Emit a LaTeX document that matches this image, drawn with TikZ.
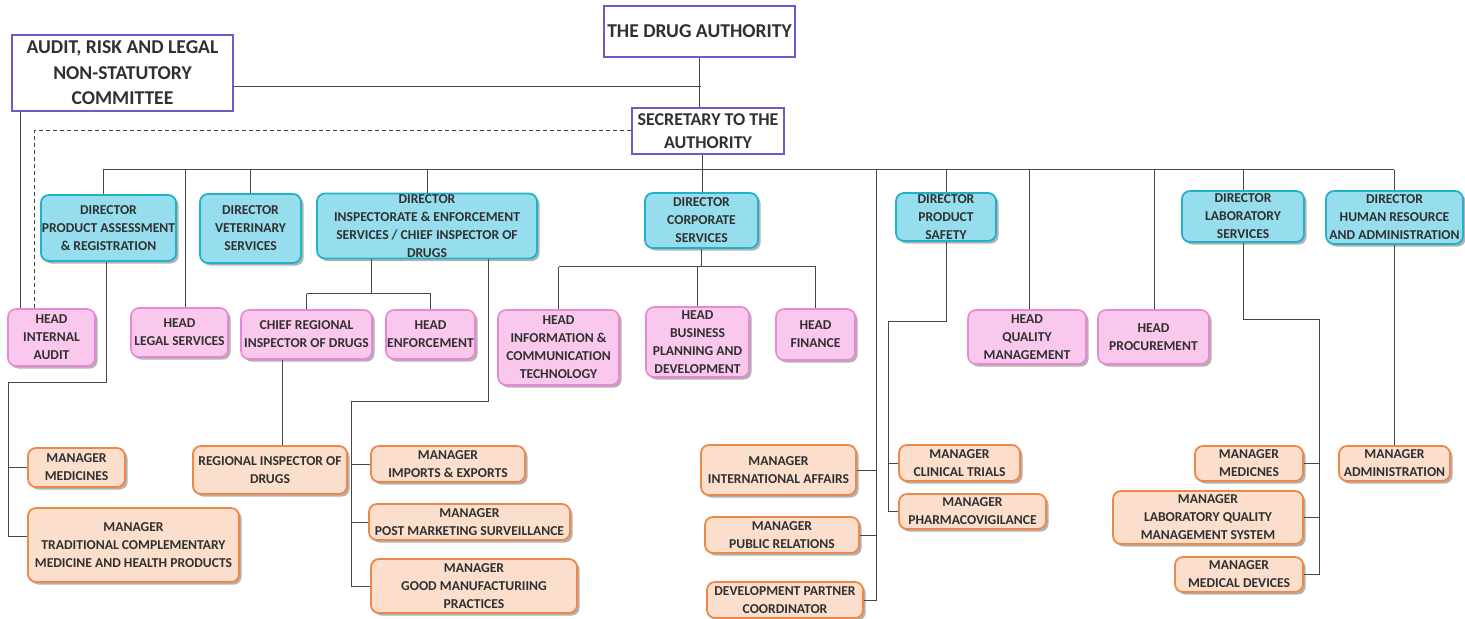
\documentclass[tikz,border=0pt]{standalone}
\usepackage{fontspec}
\setmainfont{Carlito}
\usetikzlibrary{shadows}

\definecolor{authborder}{RGB}{106,92,205}
\definecolor{dirfill}{RGB}{150,222,238}
\definecolor{dirborder}{RGB}{34,178,200}
\definecolor{headfill}{RGB}{250,200,236}
\definecolor{headborder}{RGB}{232,136,212}
\definecolor{mgrfill}{RGB}{252,222,204}
\definecolor{mgrborder}{RGB}{238,136,72}
\definecolor{txtgray}{RGB}{48,48,48}
\definecolor{linegray}{RGB}{70,70,70}

\begin{document}
\begin{tikzpicture}[x=0.5pt, y=-0.5pt, text=txtgray]

    % Define styles
    \tikzstyle{board} = [
        rectangle, draw=authborder, line width=1pt, fill=white,
        align=center, inner sep=1pt,
        font=\fontsize{9.8}{12.75}\selectfont\bfseries
    ]
    \tikzstyle{director} = [
        rectangle, rounded corners=4pt, draw=dirborder, line width=0.9pt,
        fill=dirfill, align=center, inner sep=0.5pt,
        font=\fontsize{6.8}{9}\selectfont\bfseries,
        drop shadow={shadow xshift=1.3pt, shadow yshift=-1.3pt, fill=black, opacity=0.3}
    ]
    \tikzstyle{head} = [
        director, draw=headborder, line width=0.8pt, fill=headfill
    ]
    \tikzstyle{manager} = [
        director, draw=mgrborder, line width=0.9pt, fill=mgrfill
    ]
    \tikzstyle{link} = [draw=linegray, line width=0.5pt]

    \useasboundingbox (0,0) rectangle (1465,619);

    % Nodes: top of the structure
    \node[board, minimum width=95.5pt, minimum height=25.5pt] (da) at (699.5,31.5) {THE DRUG AUTHORITY};
    \node[board, minimum width=110.5pt, minimum height=38pt] (arc) at (122.5,73) {AUDIT, RISK AND LEGAL\\NON-STATUTORY\\COMMITTEE};
    \node[board, minimum width=76pt, minimum height=23pt, font=\fontsize{9}{11.8}\selectfont\bfseries] (sec) at (708,131) {SECRETARY TO THE\\AUTHORITY};

    % Nodes: directors
    \node[director, minimum width=66.5pt, minimum height=33pt] (dpar) at (108.5,228) {DIRECTOR\\PRODUCT ASSESSMENT\\\& REGISTRATION};
    \node[director, minimum width=50.5pt, minimum height=34.5pt] (dvet) at (250.5,228.5) {DIRECTOR\\VETERINARY\\SERVICES};
    \node[director, minimum width=110pt, minimum height=32pt] (dinsp) at (427,226) {DIRECTOR\\INSPECTORATE \& ENFORCEMENT\\SERVICES / CHIEF INSPECTOR OF\\DRUGS};
    \node[director, minimum width=56.5pt, minimum height=27.5pt] (dcorp) at (701.5,220.5) {DIRECTOR\\CORPORATE\\SERVICES};
    \node[director, minimum width=50pt, minimum height=24pt] (dps) at (946,217) {DIRECTOR\\PRODUCT\\SAFETY};
    \node[director, minimum width=61pt, minimum height=25.5pt] (dlab) at (1243,216.5) {DIRECTOR\\LABORATORY\\SERVICES};
    \node[director, minimum width=68.5pt, minimum height=26.5pt] (dhr) at (1394.5,217.5) {DIRECTOR\\HUMAN RESOURCE\\AND ADMINISTRATION};

    % Nodes: heads
    \node[head, minimum width=43.5pt, minimum height=28.5pt] (hia) at (51.5,337.5) {HEAD\\INTERNAL\\AUDIT};
    \node[head, minimum width=48.5pt, minimum height=24.5pt] (hls) at (179.5,332.5) {HEAD\\LEGAL SERVICES};
    \node[head, minimum width=65.5pt, minimum height=24.5pt] (cri) at (306.5,334.5) {CHIEF REGIONAL\\INSPECTOR OF DRUGS};
    \node[head, minimum width=44.5pt, minimum height=24.5pt] (hen) at (430.5,334.5) {HEAD\\ENFORCEMENT};
    \node[head, minimum width=60.5pt, minimum height=37.5pt] (hict) at (558.5,347.5) {HEAD\\INFORMATION \&\\COMMUNICATION\\TECHNOLOGY};
    \node[head, minimum width=51.5pt, minimum height=35pt] (hbpd) at (697.5,342) {HEAD\\BUSINESS\\PLANNING AND\\DEVELOPMENT};
    \node[head, minimum width=39.5pt, minimum height=25.5pt] (hfin) at (815.5,334.5) {HEAD\\FINANCE};
    \node[head, minimum width=59pt, minimum height=27pt] (hqm) at (1027,337) {HEAD\\QUALITY\\MANAGEMENT};
    \node[head, minimum width=55.5pt, minimum height=27pt] (hproc) at (1153.5,337) {HEAD\\PROCUREMENT};

    % Nodes: managers
    \node[manager, minimum width=48.5pt, minimum height=19.5pt] (mmed) at (76.5,467.5) {MANAGER\\MEDICINES};
    \node[manager, minimum width=105.5pt, minimum height=37pt] (mtcm) at (133.5,545) {MANAGER\\TRADITIONAL COMPLEMENTARY\\MEDICINE AND HEALTH PRODUCTS};
    \node[manager, minimum width=77pt, minimum height=24pt] (rid) at (270,470) {REGIONAL INSPECTOR OF\\DRUGS};
    \node[manager, minimum width=77pt, minimum height=18pt] (mimp) at (448,464) {MANAGER\\IMPORTS \& EXPORTS};
    \node[manager, minimum width=100.5pt, minimum height=18pt] (mpms) at (469.5,522) {MANAGER\\POST MARKETING SURVEILLANCE};
    \node[manager, minimum width=103pt, minimum height=27pt] (mgmp) at (474,586) {MANAGER\\GOOD MANUFACTURIING\\PRACTICES};
    \node[manager, minimum width=77.5pt, minimum height=25pt] (mint) at (778.5,470) {MANAGER\\INTERNATIONAL AFFAIRS};
    \node[manager, minimum width=77pt, minimum height=18pt] (mpr) at (782,535) {MANAGER\\PUBLIC RELATIONS};
    \node[manager, minimum width=78pt, minimum height=18pt] (mdpc) at (785,600) {DEVELOPMENT PARTNER\\COORDINATOR};
    \node[manager, minimum width=60.5pt, minimum height=18pt] (mct) at (959.5,463) {MANAGER\\CLINICAL TRIALS};
    \node[manager, minimum width=73.5pt, minimum height=17.5pt] (mpv) at (972.5,511.5) {MANAGER\\PHARMACOVIGILANCE};
    \node[manager, minimum width=54pt, minimum height=17.5pt] (mlmed) at (1249,463.5) {MANAGER\\MEDICNES};
    \node[manager, minimum width=95pt, minimum height=26.5pt] (mlqms) at (1208,517.5) {MANAGER\\LABORATORY QUALITY\\MANAGEMENT SYSTEM};
    \node[manager, minimum width=64pt, minimum height=17.5pt] (mmd) at (1239,574.5) {MANAGER\\MEDICAL DEVICES};
    \node[manager, minimum width=55.5pt, minimum height=17.5pt] (madm) at (1394.5,463.5) {MANAGER\\ADMINISTRATION};

    % Bend points
    \coordinate (jarc) at (701,87);
    \coordinate (bus) at (702,170);
    \coordinate (busL) at (103,170);
    \coordinate (busR) at (1394,170);
    \coordinate (legal) at (185,170);
    \coordinate (corpline) at (876,170);
    \coordinate (qual) at (1029,170);
    \coordinate (proc) at (1154,170);
    \coordinate (auditL) at (20,111);
    \coordinate (dashL) at (34,129);
    \coordinate (parA) at (106,383);
    \coordinate (parB) at (8,383);
    \coordinate (tcm) at ([yshift=4.5pt]mtcm.west);
    \coordinate (inspA) at (371,294);
    \coordinate (cridown) at (282,360);
    \coordinate (inspB) at (488,402);
    \coordinate (inspC) at (351,402);
    \coordinate (corpA) at (697,267);
    \coordinate (psA) at (888,322);
    \coordinate (labA) at (1319,320);

    % Connectors: top
    \draw[link] (da.south) -- (da.south |- sec.north);
    \draw[link] (arc.east |- jarc) -- (jarc);
    \draw[link] (bus |- sec.south) -- (bus);
    \draw[link] (busL) -- (busR);
    \draw[link] (arc.south -| auditL) -- (hia.north -| auditL);
    \draw[link, dash pattern=on 2pt off 1.5pt] (sec.west) -- (sec.west -| dashL) -- (hia.north -| dashL);

    % Connectors: bus to directors and heads
    \draw[link] (busL) -- (busL |- dpar.north);
    \draw[link] (legal) -- (legal |- hls.north);
    \draw[link] (dvet.north |- bus) -- (dvet.north);
    \draw[link] (dinsp.north |- bus) -- (dinsp.north);
    \draw[link] (bus) -- (bus |- dcorp.north);
    \draw[link] (dps.north |- bus) -- (dps.north);
    \draw[link] (qual) -- (qual |- hqm.north);
    \draw[link] (proc) -- (proc |- hproc.north);
    \draw[link] (dlab.north |- bus) -- (dlab.north);
    \draw[link] (busR) -- (busR |- dhr.north);

    % Connectors: product assessment
    \draw[link] (dpar.south -| parA) -- (parA) -- (parB) -- (parB |- tcm) -- (tcm);
    \draw[link] (mmed.west -| parB) -- (mmed.west);

    % Connectors: inspectorate
    \draw[link] (dinsp.south -| inspA) -- (inspA);
    \draw[link] (cri.north |- inspA) -- (hen.north |- inspA);
    \draw[link] (cri.north |- inspA) -- (cri.north);
    \draw[link] (hen.north |- inspA) -- (hen.north);
    \draw[link] (cri.south -| cridown) -- (rid.north -| cridown);
    \draw[link] (dinsp.south -| inspB) -- (inspB) -- (inspC) -- (inspC |- mgmp.west) -- (mgmp.west);
    \draw[link] (mimp.west -| inspC) -- (mimp.west);
    \draw[link] (mpms.west -| inspC) -- (mpms.west);

    % Connectors: corporate services
    \draw[link] (dcorp.south) -- (dcorp.south |- corpA);
    \draw[link] (hict.north |- corpA) -- (hfin.north |- corpA);
    \draw[link] (hict.north |- corpA) -- (hict.north);
    \draw[link] (hbpd.north |- corpA) -- (hbpd.north);
    \draw[link] (hfin.north |- corpA) -- (hfin.north);
    \draw[link] (corpline) -- (corpline |- mdpc.east) -- (mdpc.east);
    \draw[link] (mint.east) -- (mint.east -| corpline);
    \draw[link] (mpr.east) -- (mpr.east -| corpline);

    % Connectors: product safety
    \draw[link] (dps.south) -- (dps.south |- psA) -- (psA) -- (psA |- mpv.west) -- (mpv.west);
    \draw[link] (mct.west -| psA) -- (mct.west);

    % Connectors: laboratory
    \draw[link] (dlab.south) -- (dlab.south |- labA) -- (labA) -- (labA |- mmd.east) -- (mmd.east);
    \draw[link] (mlmed.east) -- (mlmed.east -| labA);
    \draw[link] (mlqms.east) -- (mlqms.east -| labA);

    % Connectors: human resource
    \draw[link] (dhr.south) -- (madm.north);

\end{tikzpicture}
\end{document}
